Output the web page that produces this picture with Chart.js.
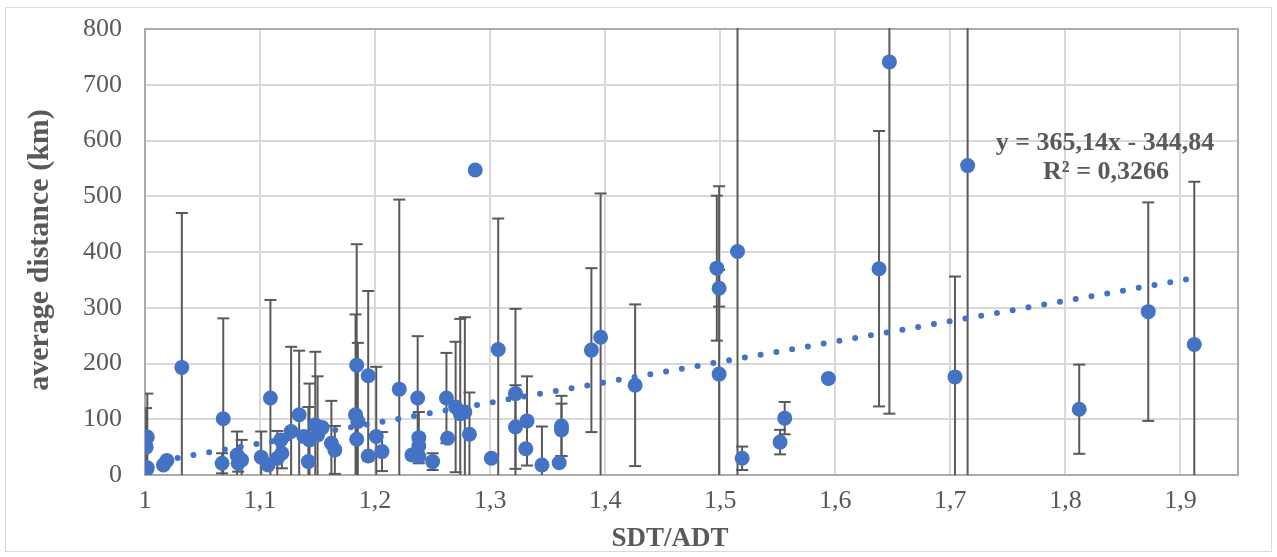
<!DOCTYPE html>
<html>
<head>
<meta charset="utf-8">
<script src="https://cdn.jsdelivr.net/npm/chart.js@4.4.1/dist/chart.umd.min.js"></script>
<style>
  html, body { margin: 0; padding: 0; background: #fff; }
</style>
</head>
<body>
<canvas id="distChart" width="1277" height="557"></canvas>
<script>
// SDT/ADT ratio per route
const sdtAdt = [
  1.002, 1.001, 1.002, 1.001, 1.016, 1.019, 1.032, 1.068, 1.067, 1.080,
  1.081, 1.084, 1.101, 1.109, 1.107, 1.115, 1.119, 1.118, 1.127, 1.134,
  1.138, 1.142, 1.143, 1.148, 1.150, 1.154, 1.162, 1.165, 1.184, 1.183,
  1.185, 1.184, 1.194, 1.194, 1.201, 1.206, 1.221, 1.237, 1.238, 1.238,
  1.232, 1.238, 1.250, 1.262, 1.270, 1.274, 1.263, 1.278, 1.282, 1.287,
  1.301, 1.307, 1.322, 1.322, 1.332, 1.331, 1.345, 1.362, 1.362, 1.360,
  1.388, 1.396, 1.426, 1.497, 1.499, 1.499, 1.515, 1.519, 1.552, 1.556,
  1.594, 1.638, 1.647, 1.704, 1.715, 1.812, 1.872, 1.912
];

// average distance (km)
const avgDistance = [
  68, 50, 13, 9, 18, 26, 193, 101, 21, 36,
  21, 27, 32, 138, 18, 30, 39, 63, 78, 108,
  69, 24, 63, 90, 72, 85, 57, 45, 197, 108,
  96, 64, 178, 34, 69, 42, 154, 138, 67, 52,
  36, 33, 24, 138, 122, 110, 66, 113, 73, 547,
  30, 225, 146, 86, 97, 47, 18, 88, 81, 22,
  224, 247, 161, 371, 335, 181, 401, 30, 59, 102,
  173, 370, 741, 176, 555, 118, 293, 234
];

// standard deviation of the distance (km)
const distanceError = [
  78, 70, 0, 0, 0, 0, 277, 180, 18, 42,
  15, 36, 46, 176, 0, 49, 27, 0, 152, 115,
  0, 98, 101, 131, 105, 0, 76, 43, 217, 180,
  141, 0, 152, 0, 125, 35, 340, 111, 46, 0,
  0, 0, 15, 81, 117, 170, 0, 170, 75, 0,
  0, 235, 152, 75, 80, 0, 69, 54, 47, 0,
  147, 258, 145, 130, 33, 337, 500, 21, 22, 29,
  0, 247, 631, 180, 700, 80, 196, 292
];

const xTickValues = [1, 1.1, 1.2, 1.3, 1.4, 1.5, 1.6, 1.7, 1.8, 1.9];
const yTickValues = [0, 100, 200, 300, 400, 500, 600, 700, 800];

// linear trend as reported on the chart
const trendSlope = 365.14;
const trendIntercept = -344.84;
const trendLabel = 'y = 365,14x - 344,84';
const r2Label = 'R² = 0,3266';

const xTitle = 'SDT/ADT';
const yTitle = 'average distance (km)';

const blue = '#4472C4';
const grey = '#595959';
const serif = "'Liberation Serif', 'Times New Roman', serif";

const points = sdtAdt.map((x, i) => ({ x: x, y: avgDistance[i] }));
const xLo = Math.min(...sdtAdt);
const xHi = Math.max(...sdtAdt);
const trendPoints = [
  { x: xLo, y: trendSlope * xLo + trendIntercept },
  { x: xHi, y: trendSlope * xHi + trendIntercept }
];

const commaNum = v => String(Number(v.toFixed(2))).replace('.', ',');

// keep the plot box where it is, labels are allowed to overhang
const noLabelPadding = s => {
  s.paddingTop = 0;
  s.paddingBottom = 0;
  s.paddingLeft = 0;
  s.paddingRight = 0;
};

// white page, outer frame, plot box and the error bars (under the markers)
const chartDecor = {
  id: 'chartDecor',
  beforeDraw(chart) {
    const ctx = chart.ctx;
    ctx.save();
    ctx.fillStyle = '#fff';
    ctx.fillRect(0, 0, chart.width, chart.height);
    ctx.strokeStyle = '#d9d9d9';
    ctx.lineWidth = 1;
    ctx.strokeRect(5.5, 7.5, chart.width - 11, chart.height - 13);
    ctx.restore();
  },
  beforeDatasetsDraw(chart) {
    const { ctx, chartArea: a, scales: { x, y } } = chart;
    ctx.save();
    ctx.strokeStyle = '#ababab';
    ctx.lineWidth = 2;
    ctx.strokeRect(a.left, a.top, a.right - a.left, a.bottom - a.top);

    ctx.beginPath();
    ctx.rect(a.left, a.top - 1, a.right - a.left, a.bottom - a.top + 1);
    ctx.clip();
    ctx.strokeStyle = grey;
    ctx.lineWidth = 2;
    sdtAdt.forEach((sx, i) => {
      const e = distanceError[i];
      if (!e) return;
      const px = x.getPixelForValue(sx);
      const hi = y.getPixelForValue(avgDistance[i] + e);
      const lo = y.getPixelForValue(avgDistance[i] - e);
      ctx.beginPath();
      ctx.moveTo(px, hi);
      ctx.lineTo(px, lo);
      ctx.stroke();
      // caps only where the bar ends inside the plot
      [hi, lo].forEach(py => {
        if (py >= a.top && py <= a.bottom) {
          ctx.beginPath();
          ctx.moveTo(px - 6, py);
          ctx.lineTo(px + 6, py);
          ctx.stroke();
        }
      });
    });
    ctx.restore();
  },
  afterDraw(chart) {
    const ctx = chart.ctx;
    ctx.save();
    ctx.fillStyle = grey;
    ctx.textAlign = 'center';
    ctx.textBaseline = 'alphabetic';
    ctx.font = 'bold 27px ' + serif;
    ctx.fillText(xTitle, 670, 546);

    ctx.font = 'bold 30px ' + serif;
    ctx.translate(48, 250);
    ctx.rotate(-Math.PI / 2);
    ctx.fillText(yTitle, 0, 0);
    ctx.setTransform(1, 0, 0, 1, 0, 0);

    ctx.font = 'bold 26px ' + serif;
    ctx.fillText(trendLabel, 1105, 150);
    ctx.fillText(r2Label, 1106, 179);
    ctx.restore();
  }
};

const canvas = document.getElementById('distChart');
const ctx = canvas.getContext('2d');

new Chart(ctx, {
  type: 'scatter',
  data: {
    datasets: [
      {
        type: 'line',
        label: 'Linear trend',
        data: trendPoints,
        borderColor: blue,
        borderWidth: 6,
        borderDash: [0, 16],
        borderCapStyle: 'round',
        pointRadius: 0,
        fill: false,
        order: 0
      },
      {
        label: 'Average distance',
        data: points,
        backgroundColor: blue,
        borderColor: blue,
        borderWidth: 0,
        pointRadius: 7.5,
        pointHoverRadius: 7.5,
        order: 1
      }
    ]
  },
  options: {
    responsive: false,
    animation: false,
    layout: { padding: { left: 0, top: 29, right: 39, bottom: 0 } },
    plugins: {
      legend: { display: false },
      tooltip: { enabled: false }
    },
    scales: {
      x: {
        type: 'linear',
        min: 1,
        max: 1.95,
        afterBuildTicks: s => { s.ticks = xTickValues.map(v => ({ value: v })); },
        afterFit: s => { s.height = 82; noLabelPadding(s); },
        border: { display: false },
        grid: { color: '#d9d9d9', lineWidth: 2, drawTicks: false },
        ticks: {
          padding: 11,
          color: grey,
          autoSkip: false,
          maxRotation: 0,
          font: { family: serif, size: 26 },
          callback: v => commaNum(v)
        }
      },
      y: {
        min: 0,
        max: 800,
        afterBuildTicks: s => { s.ticks = yTickValues.map(v => ({ value: v })); },
        afterFit: s => { s.width = 145; noLabelPadding(s); },
        border: { display: false },
        grid: { color: '#d9d9d9', lineWidth: 2, drawTicks: false },
        ticks: {
          padding: 23,
          color: grey,
          font: { family: serif, size: 26 },
          callback: v => String(v)
        }
      }
    }
  },
  plugins: [chartDecor]
});
</script>
</body>
</html>
